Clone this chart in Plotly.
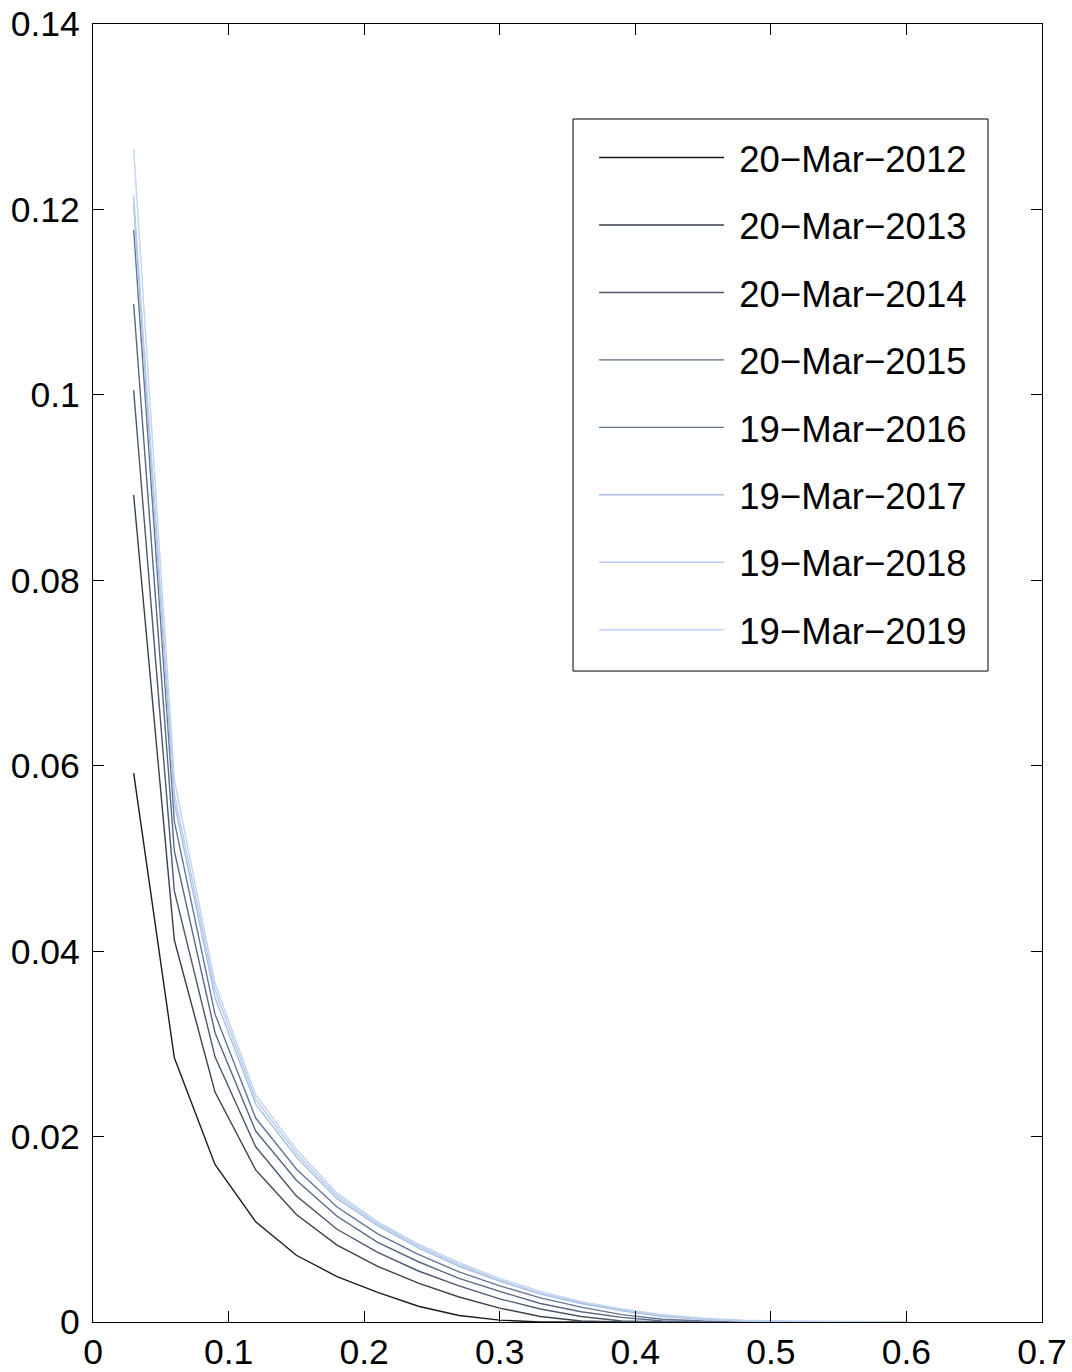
import plotly.graph_objects as go

x_vals = [0.03, 0.06, 0.09, 0.12, 0.15, 0.18, 0.21, 0.24, 0.27, 0.30,
          0.33, 0.36, 0.39, 0.42, 0.45, 0.48, 0.51, 0.54, 0.57, 0.60]

labels = ["20\u2212Mar\u22122012", "20\u2212Mar\u22122013", "20\u2212Mar\u22122014",
          "20\u2212Mar\u22122015", "19\u2212Mar\u22122016", "19\u2212Mar\u22122017",
          "19\u2212Mar\u22122018", "19\u2212Mar\u22122019"]

y2012 = [0.0592, 0.0285, 0.0170, 0.0108, 0.0072, 0.0049, 0.0032, 0.0017, 0.0007, 0.0002,
         0.0, 0.0, 0.0, 0.0, 0.0, 0.0, 0.0, 0.0, 0.0, 0.0]
y2013 = [0.0892, 0.0412, 0.0248, 0.0164, 0.0116, 0.0083, 0.0060, 0.0042, 0.0027, 0.0015,
         0.0006, 0.0001, 0.0, 0.0, 0.0, 0.0, 0.0, 0.0, 0.0, 0.0]
y2014 = [0.1005, 0.0465, 0.0286, 0.0189, 0.0136, 0.0100, 0.0075, 0.0055, 0.0039, 0.0025,
         0.0014, 0.0006, 0.0001, 0.0, 0.0, 0.0, 0.0, 0.0, 0.0, 0.0]
y2015 = [0.1098, 0.0508, 0.0312, 0.0206, 0.0153, 0.0114, 0.0086, 0.0065, 0.0047, 0.0033,
         0.0020, 0.0011, 0.0005, 0.0001, 0.0, 0.0, 0.0, 0.0, 0.0, 0.0]
y2016 = [0.1178, 0.0540, 0.0332, 0.0220, 0.0165, 0.0124, 0.0095, 0.0073, 0.0054, 0.0039,
         0.0026, 0.0016, 0.0008, 0.0003, 0.0001, 0.0, 0.0, 0.0, 0.0, 0.0]
y2017 = [0.1205, 0.0560, 0.0350, 0.0235, 0.0178, 0.0133, 0.0104, 0.0080, 0.0060, 0.0044,
         0.0030, 0.0020, 0.0012, 0.0006, 0.0003, 0.0001, 0.0, 0.0, 0.0, 0.0]
y2018 = [0.1215, 0.0570, 0.0358, 0.0240, 0.0182, 0.0136, 0.0106, 0.0082, 0.0062, 0.0045,
         0.0031, 0.0021, 0.0013, 0.0007, 0.0003, 0.0001, 0.00005, 0.0, 0.0, 0.0]
y2019 = [0.1265, 0.0585, 0.0365, 0.0245, 0.0186, 0.0139, 0.0108, 0.0084, 0.0064, 0.0047,
         0.0033, 0.0022, 0.0014, 0.0008, 0.0004, 0.0002, 0.0001, 0.00005, 0.0, 0.0]

series = [y2012, y2013, y2014, y2015, y2016, y2017, y2018, y2019]
colors = ["#1c1c1c", "#38414e", "#4d596c", "#586883", "#647597",
          "#a6bee2", "#b6cbea", "#c0d3ef"]

x_ticks = [0, 0.1, 0.2, 0.3, 0.4, 0.5, 0.6, 0.7]
x_ticktext = ["0", "0.1", "0.2", "0.3", "0.4", "0.5", "0.6", "0.7"]
y_ticks = [0, 0.02, 0.04, 0.06, 0.08, 0.1, 0.12, 0.14]
y_ticktext = ["0", "0.02", "0.04", "0.06", "0.08", "0.1", "0.12", "0.14"]

fig = go.Figure()
for i, (lab, ys, c) in enumerate(zip(labels, series, colors)):
    fig.add_trace(go.Scatter(x=x_vals, y=ys, mode="lines", name="\u00a0" + lab,
                             legendgroup="g%d" % i,
                             line=dict(color=c, width=1.4)))

font_family = "Liberation Sans, Arial, sans-serif"
axis_common = dict(showgrid=False, zeroline=False, showline=True, linecolor="black",
                   linewidth=1.2, mirror="ticks", ticks="inside", ticklen=11,
                   tickcolor="black", tickwidth=1.2, automargin=False,
                   tickfont=dict(family=font_family, size=35.5, color="black"))

fig.update_layout(
    width=1072, height=1372,
    margin=dict(l=93, r=30, t=24, b=50),
    paper_bgcolor="white", plot_bgcolor="white",
    showlegend=True,
    legend=dict(x=0.528, y=0.9204, xanchor="left", yanchor="top",
                bgcolor="rgba(0,0,0,0)", borderwidth=0,
                font=dict(family=font_family, size=36.5, color="black"),
                itemwidth=125, tracegroupgap=17, traceorder="grouped"),
    xaxis=dict(range=[0, 0.7], tickvals=x_ticks, ticktext=x_ticktext,
               ticklabelstandoff=-2, **axis_common),
    yaxis=dict(range=[0, 0.14], tickvals=y_ticks, ticktext=y_ticktext,
               ticklabelstandoff=5, **axis_common),
    shapes=[dict(type="rect", xref="paper", yref="paper",
                 x0=0.5058, x1=0.9431, y0=0.5015, y1=0.9268,
                 line=dict(color="black", width=1), fillcolor="rgba(0,0,0,0)",
                 layer="above")],
)

fig.write_html("out.html", config={"displayModeBar": False},
               post_script="document.body.style.margin='0';document.body.style.overflow='hidden';")
